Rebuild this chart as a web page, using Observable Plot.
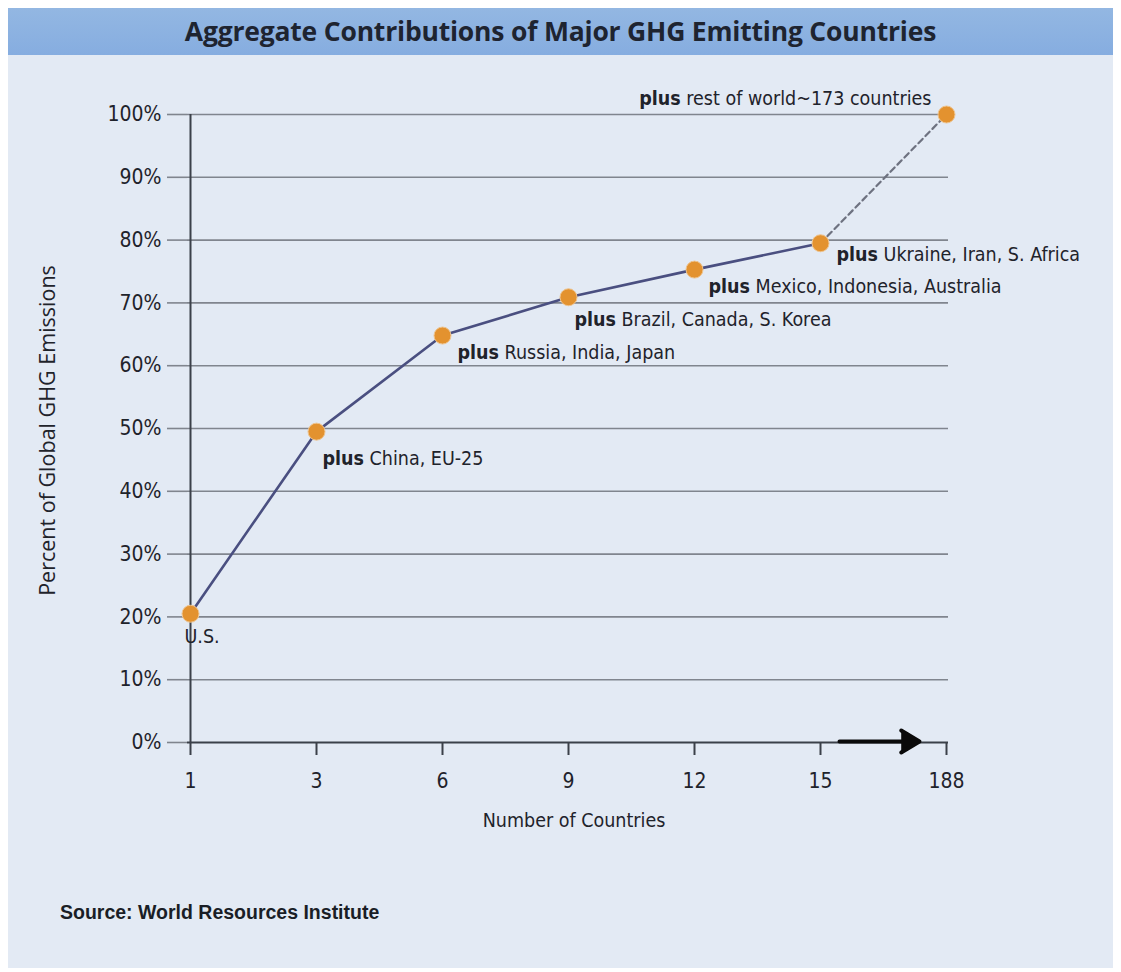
<!DOCTYPE html>
<html>
<head>
<meta charset="utf-8">
<script src="https://cdn.jsdelivr.net/npm/d3@7"></script>
<script src="https://cdn.jsdelivr.net/npm/@observablehq/plot@0.6"></script>
<style>
  html, body { margin: 0; padding: 0; background: #ffffff; }
  #page { position: relative; width: 1121px; height: 972px; background: #ffffff; overflow: hidden; }
  #panel { position: absolute; left: 8px; top: 8px; width: 1105px; height: 960px; background: #e3eaf4; }
  #titlebar { position: absolute; left: 0; top: 0; width: 1105px; height: 47px;
    background: linear-gradient(to bottom, #93b7e2, #86ade0); }
  #title { position: absolute; left: 0; top: 0; width: 1105px; height: 47px; line-height: 47px; text-align: center;
    font-family: "Open Sans", sans-serif; font-weight: 700; font-size: 26.5px; color: #1e2430; letter-spacing: -0.2px; }
  #chart { position: absolute; left: 0; top: 47px; }
  #source { position: absolute; left: 52px; top: 893px; font-family: "Liberation Sans Narrow", "Liberation Sans", sans-serif;
    font-weight: 700; font-size: 19.5px; color: #1a1e26; }
</style>
</head>
<body>
<div id="page">
  <div id="panel">
    <div id="titlebar"><div id="title">Aggregate Contributions of Major GHG Emitting Countries</div></div>
    <div id="chart"></div>
    <div id="source">Source: World Resources Institute</div>
  </div>
</div>
<script>
// ---- data ----
const countLabels = ["1", "3", "6", "9", "12", "15", "188"];
const cumulativePercent = [20.5, 49.5, 64.8, 70.9, 75.3, 79.5, 100];
const pointNotes = [
  "U.S.",
  "plus China, EU-25",
  "plus Russia, India, Japan",
  "plus Brazil, Canada, S. Korea",
  "plus Mexico, Indonesia, Australia",
  "plus Ukraine, Iran, S. Africa",
  "plus rest of world~173 countries"
];
const yTicks = [0, 10, 20, 30, 40, 50, 60, 70, 80, 90, 100];
const xAxisTitle = "Number of Countries";
const yAxisTitle = "Percent of Global GHG Emissions";

const rows = countLabels.map((c, i) => ({ n: c, pct: cumulativePercent[i], note: pointNotes[i] }));
const solidRows = rows.slice(0, 6);
const dashedRows = rows.slice(5, 7);

// label placement (style only)
const noteLayout = [
  { dx: -6, dy: 23, anchor: "start" },
  { dx: 6, dy: 27, anchor: "start" },
  { dx: 15, dy: 17, anchor: "start" },
  { dx: 6, dy: 23, anchor: "start" },
  { dx: 14, dy: 17, anchor: "start" },
  { dx: 16, dy: 12, anchor: "start" },
  { dx: -15, dy: -16, anchor: "end" }
];

const labelFont = "'Liberation Sans Narrow', 'DejaVu Sans Condensed', sans-serif";
const gridColor = "#80858e";
const axisColor = "#3b4049";

const noteMarks = rows.map((r, i) => Plot.text([r], {
  x: "n", y: "pct", text: "note",
  dx: noteLayout[i].dx, dy: noteLayout[i].dy,
  textAnchor: noteLayout[i].anchor,
  fontSize: 19.5, fill: "#1f232b", fontFamily: labelFont,
  className: "ptnote"
}));

const chart = Plot.plot({
  width: 1105,
  height: 787,
  marginLeft: 179,
  marginRight: 165,
  marginTop: 59,
  marginBottom: 100,
  style: { background: "transparent", fontFamily: labelFont, fontSize: "21px", color: "#1f232b", overflow: "visible" },
  x: { type: "point", domain: countLabels, padding: 0, label: null },
  y: { domain: [0, 100], ticks: yTicks, label: null },
  marks: [
    Plot.ruleY(yTicks.filter(d => d > 0), { stroke: gridColor, strokeWidth: 1.6 }),
    Plot.axisY({ ticks: yTicks, tickSize: 20, tickPadding: 6, tickFormat: d => d + "%", stroke: gridColor,
      strokeWidth: 1.6, fontSize: 21, label: null }),
    Plot.axisX({ tickSize: 13, tickPadding: 18, stroke: axisColor, strokeWidth: 2, fontSize: 21, label: null }),
    Plot.ruleY([0], { stroke: axisColor, strokeWidth: 2 }),
    Plot.ruleX(["1"], { y1: 0, y2: 100, stroke: axisColor, strokeWidth: 2 }),
    Plot.arrow([{ a: "15", b: "188", y: 0 }], {
      x1: "a", x2: "b", y1: "y", y2: "y", dy: -1,
      insetStart: 19, insetEnd: 27, headLength: 8, headAngle: 62,
      stroke: "#0a0a0a", fill: "#0a0a0a", strokeWidth: 4, strokeLinejoin: "miter"
    }),
    Plot.line(solidRows, { x: "n", y: "pct", stroke: "#4a4f80", strokeWidth: 2.6 }),
    Plot.line(dashedRows, { x: "n", y: "pct", stroke: "#6e7280", strokeWidth: 2.2, strokeDasharray: "6,4" }),
    Plot.dot(rows, { x: "n", y: "pct", r: 8.5, fill: "#e3922f", stroke: "#eec48f", strokeWidth: 1 }),
    ...noteMarks,
    Plot.text([xAxisTitle], { frameAnchor: "bottom", dy: 84, dx: 6, fontSize: 19.5, fontFamily: labelFont, fill: "#1f232b" }),
    Plot.text([yAxisTitle], { frameAnchor: "left", textAnchor: "middle", dx: -139, dy: 2, rotate: -90, fontSize: 21.5,
      fontFamily: "'Open Sans', sans-serif", fill: "#1f232b" })
  ]
});

// bold "plus" prefix in notes
chart.querySelectorAll(".ptnote text").forEach(t => {
  const s = t.textContent;
  if (s.startsWith("plus ")) {
    t.textContent = "";
    const b = document.createElementNS("http://www.w3.org/2000/svg", "tspan");
    b.setAttribute("font-weight", "bold");
    b.textContent = "plus";
    const r = document.createElementNS("http://www.w3.org/2000/svg", "tspan");
    r.textContent = " " + s.slice(5);
    t.appendChild(b);
    t.appendChild(r);
  }
});

document.getElementById("chart").appendChild(chart);
</script>
</body>
</html>
